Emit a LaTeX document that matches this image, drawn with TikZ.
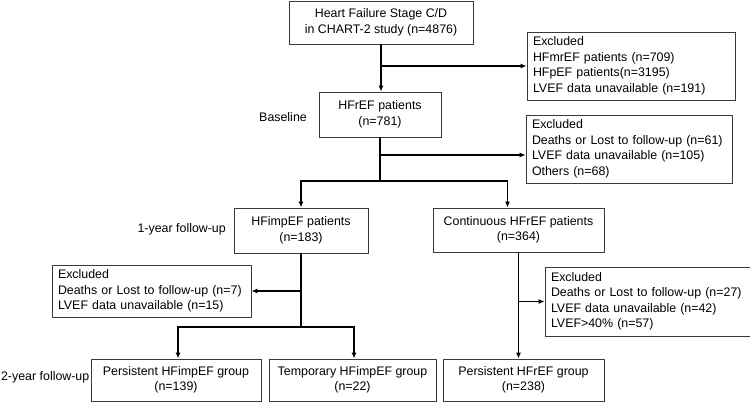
\documentclass[tikz,border=0pt]{standalone}
\usepackage{fontspec}
\setmainfont{Liberation Sans}
\usetikzlibrary{arrows.meta}
\definecolor{boxgray}{HTML}{3A3A3A}

\begin{document}
\begin{tikzpicture}[x=1pt,y=-1pt,font=\fontsize{12.4}{15.5}\selectfont,
  box/.style={draw=boxgray,line width=.8pt,align=center,inner sep=0pt},
  exclbox/.style={draw=boxgray,line width=.8pt,align=left,inner xsep=6pt,inner ysep=0pt},
  flow/.style={line width=1.6pt,-{Latex[length=6pt,width=5pt]}},
  trunk/.style={line width=1.6pt},
  stagelabel/.style={anchor=east,inner sep=0pt}]
  \useasboundingbox (0,0) rectangle (750,402);
  % Cohort boxes
  \node[box,minimum width=184pt,minimum height=43pt] (start) at (381,22.5) {Heart Failure Stage C/D\\in CHART-2 study (n=4876)};
  \node[box,minimum width=122pt,minimum height=45pt] (hfref) at (380,114.5) {HFrEF patients\\(n=781)};
  \node[box,minimum width=134pt,minimum height=45pt] (hfimp) at (301,230.5) {HFimpEF patients\\(n=183)};
  \node[box,minimum width=171pt,minimum height=44pt] (cont) at (518.5,230) {Continuous HFrEF patients\\(n=364)};
  \node[box,minimum width=170pt,minimum height=42pt] (pimp) at (176,380) {Persistent HFimpEF group\\(n=139)};
  \node[box,minimum width=167pt,minimum height=42pt] (temp) at (352.5,380) {Temporary HFimpEF group\\(n=22)};
  \node[box,minimum width=161pt,minimum height=42pt] (pref) at (523.5,380) {Persistent HFrEF group\\(n=238)};
  % Exclusion boxes
  \node[exclbox,text width=196pt,minimum height=68pt] (excl1) at (631,66) {Excluded\\HFmrEF patients (n=709)\\HFpEF patients(n=3195)\\LVEF data unavailable (n=191)};
  \node[exclbox,text width=194pt,minimum height=68pt] (excl2) at (629,149) {Excluded\\Deaths or Lost to follow-up (n=61)\\LVEF data unavailable (n=105)\\Others (n=68)};
  \node[exclbox,text width=187pt,minimum height=52pt] (excl3) at (151.5,291) {Excluded\\Deaths or Lost to follow-up (n=7)\\LVEF data unavailable (n=15)};
  \node[exclbox,text width=193pt,minimum height=69pt] (excl4) at (647.5,301.5) {Excluded\\Deaths or Lost to follow-up (n=27)\\LVEF data unavailable (n=42)\\LVEF>40\% (n=57)};
  % Stage labels
  \node[stagelabel] (lbase) at (307,117) {Baseline};
  \node[stagelabel] (lone) at (226,229) {1-year follow-up};
  \node[stagelabel] (ltwo) at (89.5,377) {2-year follow-up};
  % Baseline selection
  \draw[flow] (start.south) -- (start.south |- hfref.north);
  \draw[flow] (start.south |- excl1.west) -- (excl1.west);
  % 1-year split
  \coordinate (b2) at (380,155);
  \coordinate (s1) at (380,181);
  \draw[trunk] (hfref.south) -- (s1);
  \draw[flow] (b2) -- (b2 -| excl2.west);
  \draw[flow] (s1) -| (hfimp.north);
  \draw[flow] (s1) -| ([xshift=-11pt]cont.north);
  % 2-year split, HFimpEF side
  \coordinate (s2) at (301,327);
  \draw[trunk] (hfimp.south) -- (s2);
  \draw[flow] (hfimp.south |- excl3.east) -- (excl3.east);
  \draw[flow] (s2) -| ([xshift=2pt]pimp.north);
  \draw[flow] (s2) -| ([xshift=1.5pt]temp.north);
  % 2-year, continuous HFrEF side
  \draw[flow] (cont.south) -- (cont.south |- pref.north);
  \draw[flow] (cont.south |- excl4.west) -- (excl4.west);
\end{tikzpicture}
\end{document}
